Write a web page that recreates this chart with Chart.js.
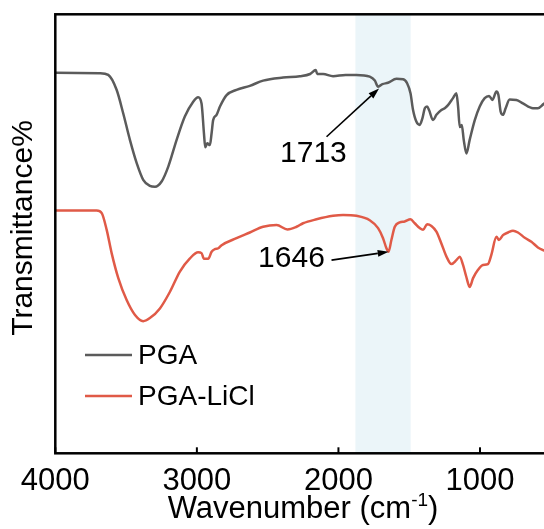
<!DOCTYPE html>
<html>
<head>
<meta charset="utf-8">
<script src="https://cdn.jsdelivr.net/npm/chart.js@4.4.1/dist/chart.umd.min.js"></script>
<style>
  html, body { margin: 0; padding: 0; background: #fff; overflow: hidden; width: 544px; height: 529px; }
  canvas { display: block; }
</style>
</head>
<body>
<canvas id="ftir" width="552" height="529"></canvas>
<script>
// FTIR spectra, PGA vs PGA-LiCl (offset traces, arbitrary transmittance units)
const FONT = '"Liberation Sans", Arial, sans-serif';

const pgaWavenumber = [4000, 3685, 3626, 3567, 3520, 3473, 3425, 3379, 3332, 3296, 3249, 3202, 3143, 3085, 3026, 2991, 2967, 2950, 2941, 2927, 2908, 2896, 2885, 2861, 2837, 2790, 2720, 2626, 2532, 2391, 2273, 2200, 2160, 2150, 2108, 2038, 1950, 1873, 1779, 1743, 1720, 1689, 1650, 1590, 1543, 1515, 1491, 1473, 1449, 1426, 1407, 1390, 1374, 1360, 1332, 1308, 1273, 1249, 1226, 1191, 1167, 1155, 1143, 1129, 1115, 1096, 1073, 1037, 1002, 967, 936, 912, 884, 870, 854, 838, 819, 791, 743, 697, 626, 591, 550, 500];
const pgaTransmittance = [86.7, 86.6, 86.2, 82.8, 77.4, 71.4, 66.1, 62.3, 60.9, 60.7, 61.9, 65.3, 71.4, 76.7, 80.1, 81.1, 79.7, 72.9, 69.7, 70.6, 70.2, 72.9, 75.9, 77.1, 79.0, 81.6, 82.8, 83.7, 84.9, 85.6, 85.9, 86.4, 87.3, 86.4, 86.4, 85.9, 86.2, 86.2, 85.8, 84.9, 83.5, 84.1, 84.4, 85.3, 85.2, 84.3, 82.0, 78.2, 75.5, 74.8, 76.3, 78.6, 79.0, 78.2, 75.9, 77.1, 78.2, 78.6, 79.3, 80.9, 82.0, 79.0, 74.3, 74.8, 71.4, 68.3, 71.4, 75.9, 79.0, 80.9, 81.4, 80.5, 82.4, 81.6, 77.8, 77.1, 78.6, 80.6, 80.5, 79.7, 78.6, 78.6, 79.6, 80.5];

const liclWavenumber = [4000, 3708, 3672, 3637, 3602, 3555, 3496, 3437, 3379, 3332, 3261, 3190, 3120, 3049, 2991, 2967, 2950, 2920, 2896, 2873, 2849, 2825, 2720, 2626, 2532, 2437, 2360, 2296, 2250, 2155, 2038, 1967, 1873, 1779, 1720, 1685, 1661, 1646, 1626, 1602, 1567, 1532, 1491, 1461, 1426, 1402, 1374, 1343, 1308, 1273, 1237, 1202, 1167, 1143, 1120, 1096, 1073, 1049, 1014, 979, 944, 920, 884, 866, 838, 802, 767, 732, 684, 637, 591, 550, 500];
const liclTransmittance = [55.3, 55.3, 54.7, 50.9, 45.6, 39.9, 34.9, 31.5, 30.1, 30.8, 33.0, 36.8, 41.4, 44.4, 45.8, 45.6, 44.3, 44.3, 45.9, 46.5, 46.7, 47.4, 49.0, 50.3, 51.6, 52.0, 51.0, 51.6, 52.4, 53.3, 54.1, 54.3, 54.1, 53.1, 51.3, 49.0, 46.7, 45.9, 48.6, 51.6, 52.6, 52.8, 53.3, 52.4, 51.3, 50.9, 52.2, 51.8, 50.5, 47.8, 44.8, 43.1, 44.0, 44.8, 42.9, 40.1, 37.9, 39.9, 41.8, 42.9, 43.1, 45.2, 49.3, 48.6, 49.7, 50.3, 50.7, 50.3, 49.1, 48.2, 46.9, 46.2, 45.4];

const seriesNames = ['PGA', 'PGA-LiCl'];
const seriesColors = ['#5b5b5b', '#e05a47'];
const xTickValues = [4000, 3000, 2000, 1000];
const highlightBand = [1880, 1490];   // shaded C=O region (cm-1)

// peak labels: arrow tip (on curve), arrow tail, label anchor (right edge, mid height)
const peakLabels = [
    { text: '1713', tip: [1713, 83.1], tail: [2084, 72.1], at: [1941, 68.2] },
    { text: '1646', tip: [1645, 45.9], tail: [2049, 44.0], at: [2096, 44.3] }
];

function toPoints(xs, ys) { return xs.map((x, i) => ({ x: x, y: ys[i] })); }

const decor = {
    id: 'decor',
    beforeDatasetsDraw(chart) {
        const { ctx, chartArea: a, scales: { x } } = chart;
        const x1 = x.getPixelForValue(highlightBand[0]);
        const x2 = x.getPixelForValue(highlightBand[1]);
        ctx.save();
        ctx.fillStyle = '#ebf5f9';
        ctx.fillRect(x1, a.top, x2 - x1, a.bottom - a.top);
        ctx.restore();
    },
    afterDraw(chart) {
        const { ctx, chartArea: a, scales: { x, y } } = chart;
        ctx.save();
        // frame
        ctx.strokeStyle = '#000';
        ctx.lineWidth = 2.5;
        ctx.strokeRect(a.left, a.top, a.right - a.left, a.bottom - a.top);
        // inward ticks
        ctx.lineWidth = 2;
        xTickValues.forEach(v => {
            const px = x.getPixelForValue(v);
            ctx.beginPath();
            ctx.moveTo(px, a.bottom);
            ctx.lineTo(px, a.bottom - 6);
            ctx.stroke();
        });

        // axis titles
        ctx.fillStyle = '#000';
        const mainFont = '31px ' + FONT;
        const supFont = '19px ' + FONT;
        const parts = ['Wavenumber (cm', '-1', ')'];
        ctx.font = mainFont;
        const w0 = ctx.measureText(parts[0]).width;
        const w2 = ctx.measureText(parts[2]).width;
        ctx.font = supFont;
        const w1 = ctx.measureText(parts[1]).width;
        let sx = (a.left + a.right) / 2 - (w0 + w1 + w2) / 2;
        const by = 518;
        ctx.textBaseline = 'alphabetic';
        ctx.textAlign = 'left';
        ctx.font = mainFont;
        ctx.fillText(parts[0], sx, by);
        sx += w0;
        ctx.font = supFont;
        ctx.fillText(parts[1], sx, by - 12);
        sx += w1;
        ctx.font = mainFont;
        ctx.fillText(parts[2], sx, by);

        ctx.save();
        ctx.translate(24, 228);
        ctx.rotate(-Math.PI / 2);
        ctx.font = '30px ' + FONT;
        ctx.textAlign = 'center';
        ctx.textBaseline = 'middle';
        ctx.fillText('Transmittance%', 0, 0);
        ctx.restore();

        // peak labels with arrows
        peakLabels.forEach(p => {
            const tx = x.getPixelForValue(p.tip[0]), ty = y.getPixelForValue(p.tip[1]);
            const sx0 = x.getPixelForValue(p.tail[0]), sy0 = y.getPixelForValue(p.tail[1]);
            const ang = Math.atan2(ty - sy0, tx - sx0);
            const headLen = 11, headW = 3.5;
            const bx = tx - headLen * Math.cos(ang), byy = ty - headLen * Math.sin(ang);
            ctx.strokeStyle = '#000';
            ctx.lineWidth = 1.6;
            ctx.beginPath();
            ctx.moveTo(sx0, sy0);
            ctx.lineTo(bx, byy);
            ctx.stroke();
            ctx.beginPath();
            ctx.moveTo(tx, ty);
            ctx.lineTo(bx + headW * Math.sin(ang), byy - headW * Math.cos(ang));
            ctx.lineTo(bx - headW * Math.sin(ang), byy + headW * Math.cos(ang));
            ctx.closePath();
            ctx.fill();
            ctx.font = '30px ' + FONT;
            ctx.textAlign = 'right';
            ctx.textBaseline = 'middle';
            ctx.fillText(p.text, x.getPixelForValue(p.at[0]), y.getPixelForValue(p.at[1]));
        });

        // legend
        chart.data.datasets.forEach((ds, i) => {
            const ly = 355 + i * 41;
            ctx.strokeStyle = ds.borderColor;
            ctx.lineWidth = 2.5;
            ctx.beginPath();
            ctx.moveTo(85, ly);
            ctx.lineTo(132, ly);
            ctx.stroke();
            ctx.fillStyle = '#000';
            ctx.font = '28px ' + FONT;
            ctx.textAlign = 'left';
            ctx.textBaseline = 'middle';
            ctx.fillText(ds.label, 138, ly + 1);
        });
        ctx.restore();
    }
};

new Chart(document.getElementById('ftir'), {
    type: 'line',
    data: {
        datasets: [
            { label: seriesNames[0], data: toPoints(pgaWavenumber, pgaTransmittance), borderColor: seriesColors[0] },
            { label: seriesNames[1], data: toPoints(liclWavenumber, liclTransmittance), borderColor: seriesColors[1] }
        ]
    },
    options: {
        responsive: false,
        animation: false,
        devicePixelRatio: 1,
        parsing: false,
        elements: {
            point: { radius: 0 },
            line: { borderWidth: 2.5, cubicInterpolationMode: 'monotone', fill: false }
        },
        layout: { padding: { left: 55.3, top: 14.3, right: 1.2, bottom: 0 } },
        plugins: { legend: { display: false }, tooltip: { enabled: false } },
        scales: {
            x: {
                type: 'linear',
                reverse: true,
                min: 500,
                max: 4000,
                grid: { display: false, drawTicks: false },
                border: { display: false },
                afterBuildTicks: s => { s.ticks = xTickValues.map(v => ({ value: v })); },
                afterFit: s => { s.height = 529 - 453.3; },
                ticks: {
                    color: '#000',
                    font: { family: FONT, size: 31 },
                    padding: 10,
                    maxRotation: 0,
                    autoSkip: false,
                    callback: v => String(v)
                }
            },
            y: { display: false, min: 0, max: 100 }
        }
    },
    plugins: [decor]
});
</script>
</body>
</html>
